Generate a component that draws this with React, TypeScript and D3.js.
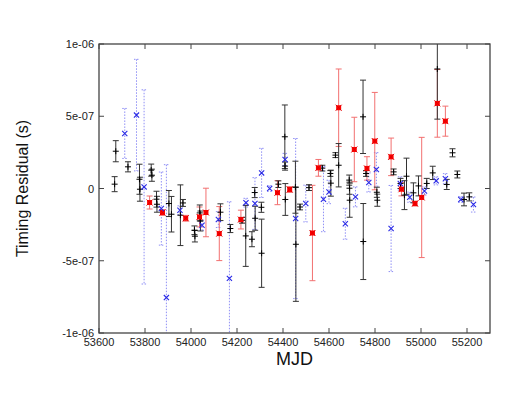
import React from "react";
import * as d3 from "d3";

// [MJD, residual (1e-7 s), error (1e-7 s)]
const blackPoints: [number, number, number][] = [
  [53668, 0.3, 0.52], [53673, 2.58, 0.73], [53726, 1.5, 0.35], [53776, 0.64, 1.04],
  [53778, -0.05, 0.83], [53827, 1.27, 0.42], [53830, 0.92, 0.42], [53850, -0.74, 0.55],
  [53852, -1.09, 0.55], [53904, -1.04, 0.9], [53915, -1.78, 1.23], [53954, -1.85, 2.1],
  [53965, -1.0, 0.24], [54015, -2.89, 0.3], [54017, -3.3, 0.4], [54038, -1.69, 0.55],
  [54041, -2.25, 0.69], [54128, -1.64, 0.58], [54171, -2.77, 0.28], [54222, -2.2, 0.2],
  [54238, -3.28, 2.11], [54265, -3.51, 0.52], [54277, -0.28, 0.35], [54279, -2.06, 0.83],
  [54306, -1.3, 0.35], [54307, -4.48, 2.36], [54380, 0.3, 0.23], [54408, 3.58, 2.2],
  [54409, 1.55, 0.28], [54410, -0.76, 1.1], [54454, 0.09, 1.8], [54456, -3.86, 3.95],
  [54474, -1.28, 0.2], [54513, 0.06, 0.2], [54571, 1.41, 0.2], [54606, 1.04, 0.2],
  [54608, 0.37, 0.9], [54628, 2.31, 0.17], [54642, 1.61, 1.5], [54688, 0.58, 0.35],
  [54689, 0.02, 0.42], [54690, -0.81, 1.18], [54748, 4.96, 2.54], [54749, -3.67, 2.63],
  [54761, 1.04, 0.2], [54808, -0.26, 0.35], [54810, -0.81, 0.42], [54881, 1.15, 0.2],
  [54911, 0.35, 0.35], [54928, -0.46, 1.0], [54937, 0.85, 1.25], [54967, -0.3, 0.69],
  [54989, 0.18, 0.69], [55025, 0.35, 0.35], [55051, 1.08, 0.46], [55071, 8.27, 3.47],
  [55112, 0.28, 0.35], [55137, 2.47, 0.28], [55158, 0.97, 0.24], [55187, -0.76, 0.44],
  [55210, -0.58, 0.28],
];

const redPoints: [number, number, number][] = [
  [53820, -0.97, 0.45], [53876, -1.66, 0.2], [53977, -2.06, 0.2], [54037, -1.97, 0.69],
  [54065, -1.66, 1.68], [54123, -3.12, 1.87], [54217, -2.15, 0.65], [54376, -0.29, 0.83],
  [54429, -0.07, 0.2], [54528, -3.08, 3.3], [54554, 1.43, 0.58], [54642, 5.59, 2.68],
  [54710, 2.7, 2.23], [54765, 1.39, 0.81], [54799, 3.28, 3.37], [54870, 2.19, 1.3],
  [54915, -0.05, 0.46], [54974, -1.04, 0.17], [55003, -0.62, 4.16], [55071, 5.89, 2.34],
  [55106, 4.66, 1.04],
];

const bluePoints: [number, number, number][] = [
  [53712, 3.81, 1.73], [53763, 5.08, 3.86], [53796, 0.11, 6.72], [53871, -1.39, 2.53],
  [53893, -7.55, 9.2], [53952, -1.5, 0.3], [54048, -2.54, 0.35], [54119, -2.15, 0.55],
  [54167, -6.22, 5.3], [54239, -0.98, 0.3], [54278, -1.04, 1.79], [54307, 1.08, 1.7],
  [54342, 0.0, 0.2], [54409, 2.01, 0.42], [54455, -2.08, 5.54], [54499, -1.04, 1.27],
  [54576, -0.74, 2.25], [54600, -0.24, 0.81], [54671, -2.44, 1.07], [54715, -0.58, 0.69],
  [54773, 0.42, 0.66], [54806, 1.32, 1.16], [54870, -2.77, 2.98], [54910, 0.35, 0.46],
  [54951, -0.6, 0.35], [55015, -0.17, 0.28], [55066, 0.53, 0.28], [55106, 0.68, 0.35],
  [55173, -0.76, 0.2], [55228, -1.11, 0.52],
];

const xTicks = [53600, 53800, 54000, 54200, 54400, 54600, 54800, 55000, 55200];
const yTicks = [1e-6, 5e-7, 0, -5e-7, -1e-6];
const yTickLabels = ["1e-06", "5e-07", "0", "-5e-07", "-1e-06"];

const UNIT = 1e-7;
const W = 518;
const H = 400;
const margin = { left: 99, right: 28, top: 44, bottom: 67 };
const font = "Liberation Sans, Arial, sans-serif";

export default function App() {
  const x = d3.scaleLinear().domain([53600, 55300]).range([margin.left, W - margin.right]);
  const y = d3.scaleLinear().domain([-1e-6, 1e-6]).range([H - margin.bottom, margin.top]);
  const [x0, x1] = x.range();
  const [y0, y1] = [y(-1e-6), y(1e-6)];
  const tick = 5;

  const bars = (pts: [number, number, number][], color: string, dash?: string, cap = 3) =>
    pts.map(([m, r, e], i) => {
      const cx = x(m);
      const top = y((r + e) * UNIT);
      const bot = y((r - e) * UNIT);
      return (
        <g key={i} stroke={color} strokeWidth={1} strokeDasharray={dash}>
          <line x1={cx} x2={cx} y1={top} y2={bot} />
          <line x1={cx - cap} x2={cx + cap} y1={top} y2={top} strokeDasharray={undefined} />
          <line x1={cx - cap} x2={cx + cap} y1={bot} y2={bot} strokeDasharray={undefined} />
        </g>
      );
    });

  return (
    <svg width={W} height={H} style={{ position: "absolute", left: 0, top: 0, background: "#fff" }}>
      <defs>
        <clipPath id="plot">
          <rect x={x0} y={y1} width={x1 - x0} height={y0 - y1} />
        </clipPath>
      </defs>

      <g clipPath="url(#plot)">
        {bars(bluePoints, "#8f8ff5", "1.5,1.5", 2.5)}
        {bars(redPoints, "#f27070")}
        {bars(blackPoints, "#333")}

        {/* black + markers */}
        {blackPoints.map(([m, r], i) => (
          <g key={"b" + i} stroke="#000" strokeWidth={1}>
            <line x1={x(m) - 3} x2={x(m) + 3} y1={y(r * UNIT)} y2={y(r * UNIT)} />
            <line x1={x(m)} x2={x(m)} y1={y(r * UNIT) - 3} y2={y(r * UNIT) + 3} />
          </g>
        ))}
        {/* red filled squares */}
        {redPoints.map(([m, r], i) => (
          <g key={"r" + i}>
            <rect x={x(m) - 2.5} y={y(r * UNIT) - 2.5} width={5} height={5} fill="#ff0000" />
            <path
              d={`M${x(m) - 3},${y(r * UNIT) - 3}L${x(m) + 3},${y(r * UNIT) + 3}M${x(m) - 3},${y(r * UNIT) + 3}L${x(m) + 3},${y(r * UNIT) - 3}`}
              stroke="#e00000"
              strokeWidth={1}
            />
          </g>
        ))}
        {/* blue x markers */}
        {bluePoints.map(([m, r], i) => (
          <path
            key={"x" + i}
            d={`M${x(m) - 2.6},${y(r * UNIT) - 2.6}L${x(m) + 2.6},${y(r * UNIT) + 2.6}M${x(m) - 2.6},${y(r * UNIT) + 2.6}L${x(m) + 2.6},${y(r * UNIT) - 2.6}`}
            stroke="#2a2ae6"
            strokeWidth={1.1}
            fill="none"
          />
        ))}
      </g>

      {/* frame */}
      <rect x={x0} y={y1} width={x1 - x0} height={y0 - y1} fill="none" stroke="#444" strokeWidth={1.3} />

      {/* x ticks */}
      {xTicks.map((t) => (
        <g key={t}>
          <line x1={x(t)} x2={x(t)} y1={y0} y2={y0 - tick} stroke="#444" />
          <line x1={x(t)} x2={x(t)} y1={y1} y2={y1 + tick} stroke="#444" />
          <text x={x(t)} y={y0 + 13} textAnchor="middle" fontSize={11} fontFamily={font} fill="#222">
            {t}
          </text>
        </g>
      ))}

      {/* y ticks */}
      {yTicks.map((t, i) => (
        <g key={t}>
          <line x1={x0} x2={x0 + tick} y1={y(t)} y2={y(t)} stroke="#444" />
          <line x1={x1} x2={x1 - tick} y1={y(t)} y2={y(t)} stroke="#444" />
          <text x={x0 - 5} y={y(t) + 4} textAnchor="end" fontSize={11} fontFamily={font} fill="#222">
            {yTickLabels[i]}
          </text>
        </g>
      ))}

      <text x={(x0 + x1) / 2} y={y0 + 32} textAnchor="middle" fontSize={18} fontFamily={font} fill="#111">
        MJD
      </text>
      <text
        transform={`translate(28,${(y0 + y1) / 2}) rotate(-90)`}
        textAnchor="middle"
        fontSize={16}
        fontFamily={font}
        fill="#111"
      >
        Timing Residual (s)
      </text>
    </svg>
  );
}
